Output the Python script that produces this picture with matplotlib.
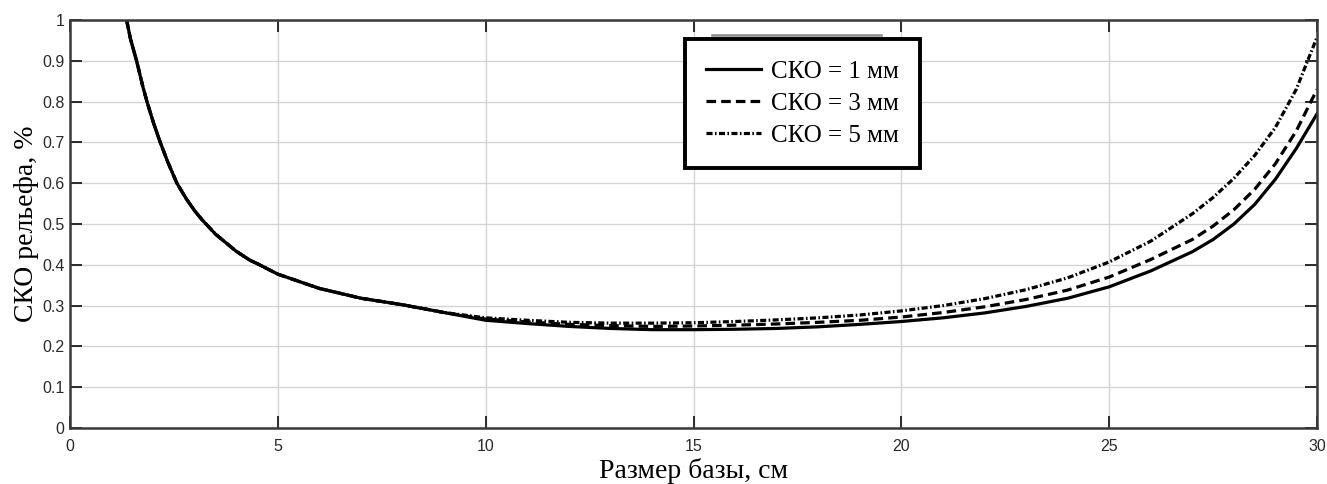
import matplotlib
matplotlib.use("Agg")
import matplotlib.pyplot as plt
from matplotlib.lines import Line2D

plt.rcParams.update({"font.family": "Liberation Sans", "font.size": 10})
SERIF = "Liberation Serif"

# размер базы, см
base = [1.36, 1.45, 1.6, 1.75, 1.85, 2.0, 2.17, 2.35, 2.57, 2.8, 3.0, 3.17,
        3.5, 4.0, 4.33, 4.5, 5.0, 6, 7, 8, 9, 10, 11, 12, 13, 14, 15, 16,
        17, 18, 19, 20, 21, 22, 23, 24, 25, 26, 27, 27.5, 28, 28.5, 29,
        29.5, 30]
# до 9 см все три кривые совпадают
head = [1.0, 0.955, 0.9, 0.837, 0.8, 0.75, 0.70, 0.652, 0.60, 0.561, 0.532,
        0.511, 0.475, 0.433, 0.411, 0.403, 0.377, 0.342, 0.318, 0.302, 0.283]
sko1 = head + [0.264, 0.256, 0.249, 0.244, 0.241, 0.241, 0.242, 0.244, 0.248,
               0.254, 0.261, 0.27, 0.282, 0.298, 0.318, 0.346, 0.385, 0.432,
               0.462, 0.50, 0.548, 0.61, 0.685, 0.77]
sko3 = head + [0.267, 0.26, 0.254, 0.251, 0.249, 0.25, 0.252, 0.255, 0.259,
               0.264, 0.272, 0.283, 0.297, 0.315, 0.338, 0.37, 0.413, 0.462,
               0.495, 0.535, 0.585, 0.648, 0.728, 0.83]
sko5 = head + [0.27, 0.264, 0.259, 0.257, 0.257, 0.258, 0.261, 0.265, 0.27,
               0.277, 0.287, 0.30, 0.317, 0.339, 0.368, 0.407, 0.458, 0.525,
               0.565, 0.612, 0.668, 0.737, 0.83, 0.958]
labels = ["СКО = 1 мм", "СКО = 3 мм", "СКО = 5 мм"]
xticks = [0, 5, 10, 15, 20, 25, 30]
yticks = [0, 0.1, 0.2, 0.3, 0.4, 0.5, 0.6, 0.7, 0.8, 0.9, 1]
yticklabels = ["0", "0.1", "0.2", "0.3", "0.4", "0.5", "0.6", "0.7", "0.8", "0.9", "1"]

fig = plt.figure(figsize=(13.27, 4.84), dpi=100)
ax = fig.add_axes([0.0528, 0.1157, 0.9397, 0.843])

ax.plot(base, sko1, color="black", lw=2.3, ls="-", label=labels[0])
ax.plot(base, sko3, color="black", lw=2.3, ls=(0, (3.0, 1.6)), label=labels[1])
ax.plot(base, sko5, color="black", lw=2.3, ls=(0, (1.9, 0.75, 0.5, 0.75)), label=labels[2])

ax.set_xlim(0, 30)
ax.set_ylim(0, 1)
ax.set_xticks(xticks)
ax.set_yticks(yticks)
ax.set_yticklabels(yticklabels)
ax.grid(True, color="#d4d4d4", lw=1.0)
ax.tick_params(direction="in", length=8.5, width=1.4, top=True, right=True,
               colors="#2a2a2a", labelsize=11.5)
ax.tick_params(axis="x", pad=8)
ax.tick_params(axis="y", pad=4)
for s in ax.spines.values():
    s.set_linewidth(1.8)
    s.set_color("#3a3a3a")

ax.set_xlabel("Размер базы, см", family=SERIF, fontsize=20, labelpad=3)
ax.set_ylabel("СКО рельефа, %", family=SERIF, fontsize=20, labelpad=2)

leg = ax.legend(loc="upper left", bbox_to_anchor=(0.493, 0.953), borderaxespad=0,
                prop={"family": SERIF, "size": 18}, handlelength=2.2,
                handletextpad=0.4, labelspacing=0.38, borderpad=0.85,
                fancybox=False, framealpha=1)
leg.get_frame().set_edgecolor("black")
leg.get_frame().set_linewidth(2.8)

# серая полоска над рамкой легенды
fig.add_artist(Line2D([712 / 1327, 881 / 1327], [1 - 35 / 484, 1 - 35 / 484],
                      color="#8a8a8a", lw=1.8))

fig.savefig("out.png", dpi=100)
